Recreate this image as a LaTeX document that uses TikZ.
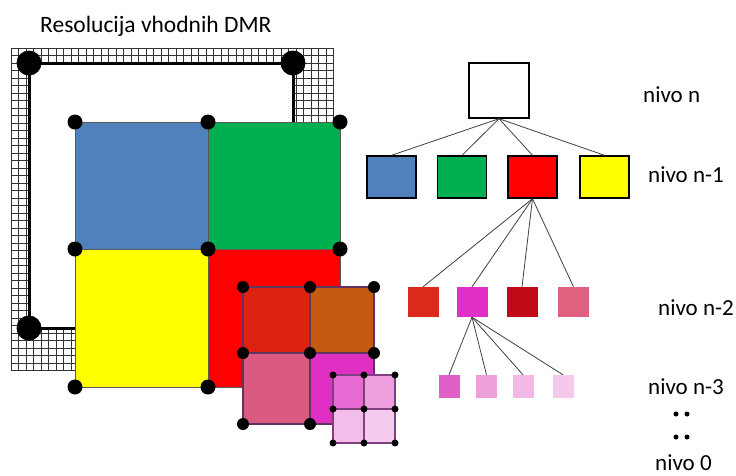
\documentclass[tikz,border=0pt]{standalone}
\usepackage{fontspec}
\setmainfont{Carlito}
\definecolor{cblue}{HTML}{4F81BD}
\definecolor{cgreen}{HTML}{00B050}
\definecolor{cyellow}{HTML}{FFFF00}
\definecolor{cred}{HTML}{FF0000}
\definecolor{sa}{HTML}{DC2210}
\definecolor{sb}{HTML}{C55A11}
\definecolor{sc}{HTML}{DB5A80}
\definecolor{sd}{HTML}{E030C4}
\definecolor{ta}{HTML}{E66AD2}
\definecolor{tb}{HTML}{EEA0DE}
\definecolor{tc}{HTML}{F2BDE9}
\definecolor{td}{HTML}{F4CAEE}
\definecolor{na}{HTML}{DC2A1A}
\definecolor{nb}{HTML}{E030C8}
\definecolor{nc}{HTML}{C00A18}
\definecolor{nd}{HTML}{E06080}
\definecolor{ma}{HTML}{E060C8}
\definecolor{mb}{HTML}{EEA0DA}
\definecolor{mc}{HTML}{F3B8E6}
\definecolor{md}{HTML}{F5C8EE}
\tikzset{
  meshline/.style={black!80, line width=1pt},
  frameline/.style={black, line width=3pt},
  quad/.style={draw=black!65, line width=0.8pt},
  subq/.style={draw=black!40!violet!60!gray, line width=1.5pt},
  subsubq/.style={draw=violet!50!gray, line width=1.1pt},
  tbox/.style={draw=black, line width=1.4pt, inner sep=0pt, minimum width=49pt, minimum height=42pt},
  sbox/.style={inner sep=0pt, minimum width=31pt, minimum height=30pt},
  xbox/.style={inner sep=0pt, minimum width=21pt, minimum height=23pt},
  conn/.style={black!75, line width=0.8pt},
  lbl/.style={inner sep=0pt, anchor=base west, font=\fontsize{23}{27}\selectfont},
  bigdot/.style={fill=black, circle, inner sep=0pt, minimum size=25pt},
  qdot/.style={fill=black, circle, inner sep=0pt, minimum size=15pt},
  sdot/.style={fill=black, circle, inner sep=0pt, minimum size=12pt},
  tdot/.style={fill=black, circle, inner sep=0pt, minimum size=7pt},
  ddot/.style={fill=black, circle, inner sep=0pt, minimum size=5pt}
}
\begin{document}
\begin{tikzpicture}[x=1pt,y=-1pt]
\useasboundingbox (0,0) rectangle (736,475);
\fill[white] (0,0) rectangle (736,475);
% title
\node[lbl, font=\fontsize{23.5}{28}\selectfont] (title) at (40,32) {Resolucija vhodnih DMR};
% mesh
\foreach \i in {0,...,43} \draw[meshline] ({11+\i*7.5},48) -- ({11+\i*7.5},370.5);
\foreach \i in {0,...,43} \draw[meshline] (11,{48+\i*7.5}) -- (333.5,{48+\i*7.5});
\fill[white] (29,63) rectangle (293,328);
\draw[frameline] (75,328) -- (29,328) -- (29,63) -- (293,63) -- (293,122);
\node[bigdot] (bd1) at (29,63) {};
\node[bigdot] (bd2) at (293,63) {};
\node[bigdot] (bd3) at (29,328) {};
% level 1 quadrants
\fill[cblue] (75,122) rectangle (208,249);
\fill[cgreen] (208,122) rectangle (340,249);
\fill[cyellow] (75,249) rectangle (208,387);
\fill[cred] (208,249) rectangle (340,387);
\draw[quad] (75,122) rectangle (340,387);
\draw[quad] (208,122) -- (208,387);
\draw[quad] (75,249) -- (340,249);
\foreach \x in {75,208,340} \foreach \y in {122,249,387} \node[qdot] at (\x,\y) {};
% level 2
\fill[sa] (243,287) rectangle (310,353);
\fill[sb] (310,287) rectangle (374,353);
\fill[sc] (243,353) rectangle (310,424);
\fill[sd] (310,353) rectangle (374,424);
\draw[subq] (243,287) rectangle (374,424);
\draw[subq] (310,287) -- (310,424);
\draw[subq] (243,353) -- (374,353);
\foreach \x in {243,310,374} \foreach \y in {287,353,424} \node[sdot] at (\x,\y) {};
% level 3
\fill[ta] (333,375) rectangle (364,409);
\fill[tb] (364,375) rectangle (395,409);
\fill[tc] (333,409) rectangle (364,443);
\fill[td] (364,409) rectangle (395,443);
\draw[subsubq] (333,375) rectangle (395,443);
\draw[subsubq] (364,375) -- (364,443);
\draw[subsubq] (333,409) -- (395,409);
\foreach \x in {333,364,395} \foreach \y in {375,409,443} \node[tdot] at (\x,\y) {};
% tree
\node[tbox, fill=white, minimum width=60pt, minimum height=55pt] (root) at (499,90.5) {};
\node[tbox, fill=cblue] (n1a) at (391.5,177) {};
\node[tbox, fill=cgreen] (n1b) at (462,177) {};
\node[tbox, fill=cred] (n1c) at (532.5,177) {};
\node[tbox, fill=cyellow] (n1d) at (604.5,177) {};
\node[sbox, fill=na] (n2a) at (423,302) {};
\node[sbox, fill=nb] (n2b) at (472,302) {};
\node[sbox, fill=nc] (n2c) at (522,302) {};
\node[sbox, fill=nd] (n2d) at (573.5,302) {};
\node[xbox, fill=ma] (n3a) at (449,386.5) {};
\node[xbox, fill=mb] (n3b) at (486.5,386.5) {};
\node[xbox, fill=mc] (n3c) at (523,386.5) {};
\node[xbox, fill=md] (n3d) at (563,386.5) {};
\foreach \t in {n1a,n1b,n1c,n1d} \draw[conn] (root.south) -- (\t.north);
\foreach \t in {n2a,n2b,n2c,n2d} \draw[conn] (n1c.south) -- (\t.north);
\foreach \t in {n3a,n3b,n3c,n3d} \draw[conn] (n2b.south) -- (\t.north);
% labels
\node[lbl] (ln) at (643,102) {nivo n};
\node[lbl] (ln1) at (648,182) {nivo n-1};
\node[lbl] (ln2) at (658,315) {nivo n-2};
\node[lbl] (ln3) at (648,394) {nivo n-3};
\node[ddot] (d1) at (676,414) {};
\node[ddot] (d2) at (687,414) {};
\node[ddot] (d3) at (676,437) {};
\node[ddot] (d4) at (687,437) {};
\node[lbl] (l0) at (655,470) {nivo 0};
\end{tikzpicture}
\end{document}
